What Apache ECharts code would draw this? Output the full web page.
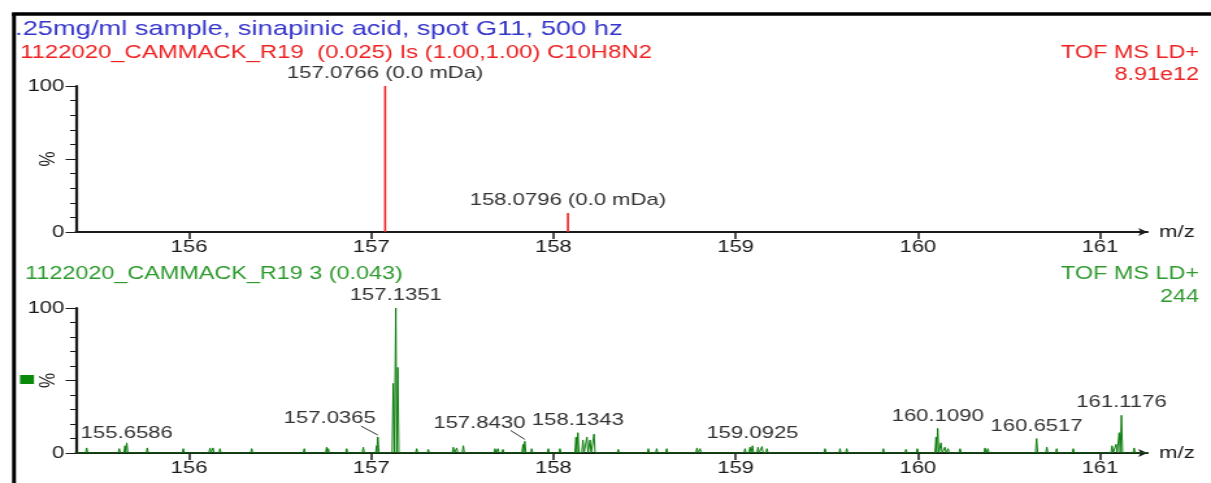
<!DOCTYPE html>
<html>
<head>
<meta charset="utf-8">
<script src="https://cdn.jsdelivr.net/npm/echarts@6/dist/echarts.min.js"></script>
<style>
  html, body { margin: 0; padding: 0; background: #fff; overflow: hidden; }
  #wrap { width: 1211px; height: 483px; overflow: hidden; }
  /* the instrument printout uses wide lettering: draw on a narrower canvas and stretch it horizontally */
  #chart { width: 932px; height: 483px; transform: scaleX(1.299356); transform-origin: 0 0; }
</style>
</head>
<body>
<div id="wrap"><div id="chart"></div></div>
<script>
// ---- data ----
const sampleTitle = '.25mg/ml sample, sinapinic acid, spot G11, 500 hz';
const theoryHeader = '1122020_CAMMACK_R19  (0.025) Is (1.00,1.00) C10H8N2';
const measuredHeader = '1122020_CAMMACK_R19 3 (0.043)';
const scanMode = 'TOF MS LD+';
const theoryIntensity = '8.91e12';
const measuredIntensity = '244';

const mzMin = 155.38;
const mzMax = 161.26;
const mzTicks = [156, 157, 158, 159, 160, 161];

// theoretical isotope pattern of C10H8N2: [m/z, relative %]
const theoryPeaks = [[157.0766, 100], [158.0796, 13]];
const theoryErrors = ['0.0', '0.0'];

// measured spectrum centroids: [m/z, relative %]
const measuredPeaks = [
  [155.4385, 3.5], [155.6174, 3], [155.6487, 5], [155.6586, 7], [155.7711, 3.5],
  [155.9687, 3], [156.1153, 3.5], [156.1317, 3.5], [156.1701, 3], [156.3441, 3],
  [156.6328, 3], [156.7557, 4], [156.7645, 3], [156.8655, 3], [156.9566, 4],
  [157.0300, 5], [157.0365, 11], [157.1210, 48], [157.1351, 100], [157.1460, 59],
  [157.2497, 3], [157.3134, 2.5], [157.4506, 4], [157.4693, 3.5], [157.5055, 5],
  [157.6795, 3], [157.6960, 3], [157.7230, 2.5], [157.8331, 6], [157.8430, 8],
  [157.8810, 3], [157.9720, 3], [158.0360, 3], [158.1240, 11], [158.1343, 14],
  [158.1620, 9], [158.1840, 11], [158.2009, 9], [158.2228, 13], [158.3560, 2.5],
  [158.5210, 3], [158.5670, 3], [158.6220, 3], [158.7880, 3.5], [158.8050, 3],
  [159.0516, 3], [159.0790, 4], [159.0925, 5], [159.1230, 4], [159.1450, 4.5],
  [159.1720, 3], [159.4910, 3], [159.5730, 3], [159.6100, 3], [159.8106, 3],
  [159.9350, 2.5], [159.9973, 3], [160.1000, 11], [160.1090, 17], [160.1270, 7],
  [160.1490, 4], [160.1660, 3], [160.2320, 3], [160.3690, 3.5], [160.3850, 3],
  [160.6517, 10], [160.7080, 4], [160.7620, 3], [160.8530, 3], [161.0660, 5],
  [161.0880, 6], [161.1050, 14], [161.1176, 26], [161.1870, 3.5]
];

// centroids annotated with their m/z
const labelledMz = [155.6586, 157.0365, 157.1351, 157.8430, 158.1343, 159.0925, 160.1090, 160.6517, 161.1176];

// ---- layout helpers ----
const SX = 1211 / 932;
const ix = x => x / SX;
const FONT = '"Liberation Sans", Arial, sans-serif';
const RED = '#ee2222';
const BLUE = '#3535cc';
const GREEN_TEXT = '#2f9a2f';
const GREEN = '#0b7d0b';
const INK = '#1a1a1a';
const LABEL_INK = '#333';

// each centroid is drawn as a narrow profile peak
const halfWidth = 0.006;
const profile = [[mzMin, 0]];
measuredPeaks.forEach(([mz, h]) => {
  profile.push([mz - halfWidth, 0], [mz, h], [mz + halfWidth, 0]);
});
profile.push([mzMax, 0]);
profile.sort((a, b) => a[0] - b[0]);

const heightAt = mz => measuredPeaks.find(p => p[0] === mz)[1];
const labelData = labelledMz.map(mz => [mz, heightAt(mz)]);
// label displacement (canvas px) for the crowded annotations, drawn with a leader line
const leaderShift = { 1: [-37, -6], 3: [-35, -6] };
const labelNudge = { 0: [0, 3] };

function xAxis(gridIndex) {
  return {
    type: 'value', gridIndex, min: mzMin, max: mzMax,
    axisLine: { show: true, onZero: false, lineStyle: { color: INK, width: 2 },
      symbol: ['none', 'arrow'], symbolSize: [6, 7] },
    axisTick: { show: true, customValues: mzTicks, length: 7, lineStyle: { color: INK, width: 1.5 } },
    axisLabel: { show: true, customValues: mzTicks, formatter: v => String(v),
      fontSize: 17, fontFamily: FONT, color: INK, margin: 7 },
    splitLine: { show: false },
    name: 'm/z', nameLocation: 'end', nameGap: 9, nameMoveOverlap: false,
    nameTextStyle: { fontSize: 17, fontFamily: FONT, color: INK, verticalAlign: 'middle' }
  };
}
function yAxis(gridIndex) {
  return {
    type: 'value', gridIndex, min: 0, max: 100, interval: 50,
    axisLine: { show: true, lineStyle: { color: INK, width: 2.2 } },
    axisTick: { show: true, length: 8, lineStyle: { color: INK, width: 1 } },
    minorTick: { show: true, splitNumber: 5, length: 4.5, lineStyle: { color: INK, width: 1 } },
    axisLabel: { formatter: v => (v === 50 ? '' : String(v)), fontSize: 17, fontFamily: FONT,
      color: INK, margin: 9 },
    splitLine: { show: false }, minorSplitLine: { show: false },
    name: '%', nameLocation: 'middle', nameRotate: 90, nameGap: 13, nameMoveOverlap: false,
    nameTextStyle: { fontSize: 17, fontFamily: FONT, color: INK }
  };
}

function text(str, x, y, size, color, align) {
  return { type: 'text', x: ix(x), y, silent: true,
    style: { text: str, fontSize: size, fontFamily: FONT, fill: color,
      align: align || 'left', verticalAlign: 'middle' } };
}

// peak annotation: m/z text above the peak, optionally displaced with a leader line
function renderPeakLabel(params, api) {
  const mz = api.value(0);
  const pt = api.coord([mz, api.value(1)]);
  const i = params.dataIndex;
  const shift = leaderShift[i];
  const nudge = labelNudge[i] || [0, 0];
  const tx = pt[0] + (shift ? shift[0] : nudge[0]);
  const baseY = pt[1] - 4 + (shift ? shift[1] : nudge[1]);
  const children = [{
    type: 'text', x: tx, y: baseY,
    style: { text: mz.toFixed(4), fontSize: 17, fontFamily: FONT, fill: LABEL_INK,
      align: 'center', verticalAlign: 'bottom' }
  }];
  if (shift) {
    children.push({
      type: 'line',
      shape: { x1: tx + 24, y1: baseY - 1, x2: pt[0], y2: pt[1] - 2 },
      style: { stroke: LABEL_INK, lineWidth: 1 }
    });
  }
  return { type: 'group', children };
}

const chart = echarts.init(document.getElementById('chart'), null, { renderer: 'canvas' });
chart.setOption({
  animation: false,
  backgroundColor: '#fff',
  grid: [
    { left: ix(76), right: 932 - ix(1147.4), top: 86, height: 146, outerBoundsMode: 'none', containLabel: false },
    { left: ix(76), right: 932 - ix(1147.4), top: 308, height: 145, outerBoundsMode: 'none', containLabel: false }
  ],
  xAxis: [xAxis(0), xAxis(1)],
  yAxis: [yAxis(0), yAxis(1)],
  graphic: [
    { type: 'line', silent: true, shape: { x1: ix(12), y1: 14, x2: 932, y2: 14 },
      style: { stroke: '#000', lineWidth: 3.5 } },
    { type: 'line', silent: true, shape: { x1: ix(14), y1: 13, x2: ix(14), y2: 483 },
      style: { stroke: '#000', lineWidth: 3 } },
    text(sampleTitle, 15, 29, 21, BLUE),
    text(theoryHeader, 20, 53, 18.4, RED),
    text(scanMode, 1199, 53, 18, RED, 'right'),
    text(theoryIntensity, 1199, 75, 18, RED, 'right'),
    text(measuredHeader, 25, 274, 18, GREEN_TEXT),
    text(scanMode, 1199, 274, 18, GREEN_TEXT, 'right'),
    text(measuredIntensity, 1199, 297, 18, GREEN_TEXT, 'right'),
    { type: 'rect', silent: true, shape: { x: ix(20), y: 375, width: ix(14), height: 9 },
      style: { fill: '#0a8a0a' } }
  ],
  series: [
    {
      type: 'bar', xAxisIndex: 0, yAxisIndex: 0, barWidth: 1.6,
      itemStyle: { color: RED },
      data: theoryPeaks,
      label: { show: true, position: 'top', distance: 4, fontSize: 17, fontFamily: FONT, color: LABEL_INK,
        formatter: p => p.value[0].toFixed(4) + ' (' + theoryErrors[p.dataIndex] + ' mDa)' }
    },
    {
      type: 'line', xAxisIndex: 1, yAxisIndex: 1, showSymbol: false, symbol: 'none',
      lineStyle: { color: GREEN, width: 1 }, data: profile, z: 3
    },
    {
      type: 'custom', xAxisIndex: 1, yAxisIndex: 1, silent: true, clip: false,
      data: labelData, renderItem: renderPeakLabel, z: 4
    }
  ]
});
</script>
</body>
</html>
